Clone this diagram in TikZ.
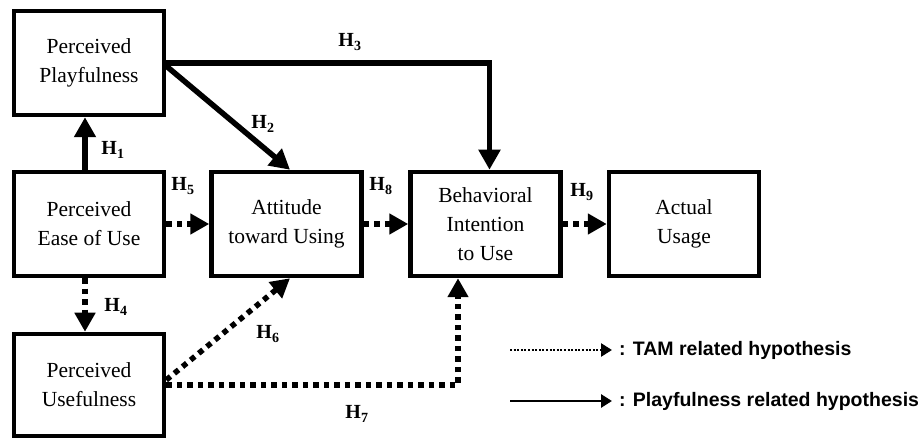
\documentclass[tikz,border=0pt]{standalone}
\usepackage{fontspec}
\setmainfont{Liberation Serif}
\newfontfamily\legendfont{Liberation Sans}
\usetikzlibrary{arrows.meta}
\begin{document}
\begin{tikzpicture}[x=1pt,y=-1pt,
  box/.style={draw, line width=4.5pt, minimum width=150pt, minimum height=104pt, align=center, inner sep=0pt,
    font=\fontsize{21.5}{29}\selectfont},
  solidarr/.style={line width=5.5pt, -{Triangle[length=20pt,width=21pt]}},
  dotarr/.style={line width=5.5pt, dash pattern=on 5.5pt off 5pt, -{Triangle[length=19pt,width=20pt]}},
  hlab/.style={font=\fontsize{20}{22}\selectfont\bfseries, inner sep=0pt},
  legtext/.style={font=\legendfont\fontsize{19.5}{22}\selectfont\bfseries, anchor=west, inner sep=0pt}]
\useasboundingbox (0,0) rectangle (924,438);
\node[box] (PP) at (89,63) {Perceived\\Playfulness};
\node[box] (PEOU) at (89,224) {Perceived\\Ease of Use};
\node[box] (ATU) at (286.5,224) {Attitude\\toward Using};
\node[box] (BI) at (485.5,224) {Behavioral\\Intention\\to Use};
\node[box] (AU) at (684,224) {Actual\\Usage};
\node[box, minimum height=102pt] (PU) at (89,385) {Perceived\\Usefulness};

% solid arrows
\draw[solidarr] ([xshift=-4pt]PEOU.north) -- ([xshift=-4pt]PP.south);
\draw[solidarr] (PP.east) -| ([xshift=4pt]BI.north);
\draw[solidarr] ([yshift=-3pt]PP.east) -- ([xshift=3.5pt]ATU.north);

% dotted arrows
\draw[dotarr] (PEOU.east) -- (ATU.west);
\draw[dotarr] (ATU.east) -- (BI.west);
\draw[dotarr] (BI.east) -- (AU.west);
\draw[dotarr] ([xshift=-4pt]PEOU.south) -- ([xshift=-4pt]PU.north);
\draw[dotarr] ([yshift=5pt]PU.east) -- ([xshift=3.5pt]ATU.south);
\draw[dotarr] (PU.east) -| ([xshift=-27.5pt]BI.south);

% labels
\node[hlab] (h1) at (113,150) {H\textsubscript{1}};
\node[hlab] (h2) at (263,124) {H\textsubscript{2}};
\node[hlab] (h3) at (350,42) {H\textsubscript{3}};
\node[hlab] (h4) at (116,307) {H\textsubscript{4}};
\node[hlab] (h5) at (183,186) {H\textsubscript{5}};
\node[hlab] (h6) at (268,334) {H\textsubscript{6}};
\node[hlab] (h7) at (357,414) {H\textsubscript{7}};
\node[hlab] (h8) at (381,186) {H\textsubscript{8}};
\node[hlab] (h9) at (582,192) {H\textsubscript{9}};

% legend
\coordinate (l1a) at (510,350);
\coordinate (l1b) at (612,350);
\coordinate (l2a) at (510,401);
\coordinate (l2b) at (612,401);
\draw[line width=2.5pt, dash pattern=on 2pt off 1.6pt, -{Triangle[length=11pt,width=13pt]}] (l1a) -- (l1b);
\draw[line width=2.8pt, -{Triangle[length=11pt,width=13pt]}] (l2a) -- (l2b);
\node[legtext] (t1) at (619,350) {: TAM related hypothesis};
\node[legtext] (t2) at (619,401) {: Playfulness related hypothesis};
\end{tikzpicture}
\end{document}
